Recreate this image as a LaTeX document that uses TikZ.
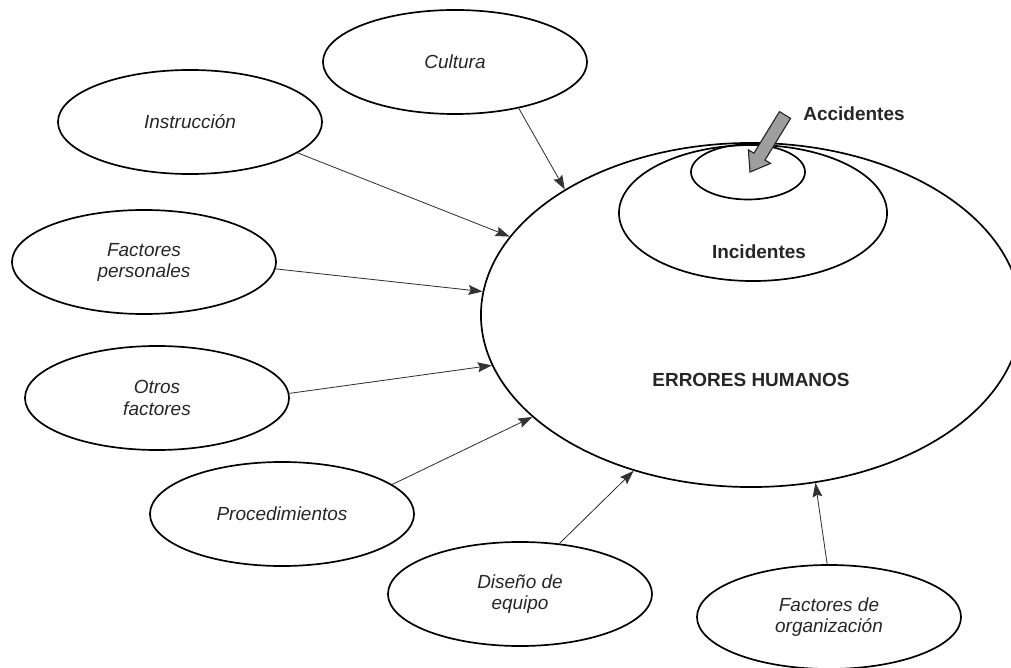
\documentclass[tikz,border=0pt]{standalone}
\usepackage{fontspec}
\setmainfont{Liberation Sans}
\usepackage{tikz}
\usetikzlibrary{shapes.geometric,arrows.meta,calc}

\begin{document}
\begin{tikzpicture}[x=0.025cm,y=-0.025cm,
    factor/.style={draw,ellipse,line width=1.2pt,inner sep=0pt,minimum width=6.6cm,minimum height=2.6cm,
      align=center,text=black!85,font=\fontsize{13.5}{15}\selectfont\itshape},
    ring/.style={draw,ellipse,line width=1.2pt,inner sep=0pt},
    lbl/.style={text=black!85,font=\fontsize{13.5}{15}\selectfont\bfseries},
    influye/.style={draw=black!80,line width=0.6pt,-{Stealth[length=10pt,width=7pt,inset=1.5pt]}}]
  \clip (0,0) rectangle (1011,668);
  \node[ring,minimum width=13.5cm,minimum height=8.6cm] (errores) at (751,315) {};
  \node[ring,minimum width=6.7cm,minimum height=3.4cm] (incidentes) at (753,213) {};
  \node[ring,minimum width=2.85cm,minimum height=1.375cm] (accidentes) at (748,172) {};
  \node[lbl] (errtxt) at (751,380) {ERRORES HUMANOS};
  \node[lbl] (inctxt) at (759,252) {Incidentes};
  \node[lbl] (acctxt) at (854,114) {Accidentes};
  \node[factor] (cultura) at (455,62) {Cultura};
  \node[factor] (instruccion) at (190,122) {Instrucción};
  \node[factor] (personales) at (144,262) {Factores\\personales};
  \node[factor] (otros) at (157,398) {Otros\\factores};
  \node[factor] (procedimientos) at (282,514) {Procedimientos};
  \node[factor] (diseno) at (520,594) {Diseño de\\equipo};
  \node[factor] (organizacion) at (829,617) {Factores de\\organización};
  \draw[influye] (cultura.-36) -- (errores.146.4);
  \draw[influye] (instruccion.-16) -- (errores.162.1);
  \draw[influye] (personales.-3) -- (errores.175.3);
  \draw[influye] (otros.2) -- (errores.-169.8);
  \draw[influye] (procedimientos.15.3) -- (errores.-155.2);
  \draw[influye] (diseno.52.6) -- (errores.-127.1);
  \draw[influye] (organizacion.92) -- (errores.-69.5);
  \coordinate (acctip) at (750,172);
  \coordinate (acctail) at (785,115);
  \coordinate (acchead) at ($(acctip)!0.27!(acctail)$);
  \filldraw[fill=black!38,draw=black!85,line width=0.8pt,line join=miter]
    (acctip) -- ($(acchead)!0.325cm!90:(acctip)$) -- ($(acchead)!0.1625cm!90:(acctip)$)
    -- ($(acctail)!0.1625cm!90:(acchead)$) -- ($(acctail)!0.1625cm!-90:(acchead)$)
    -- ($(acchead)!0.1625cm!-90:(acctip)$) -- ($(acchead)!0.325cm!-90:(acctip)$) -- cycle;
\end{tikzpicture}
\end{document}
